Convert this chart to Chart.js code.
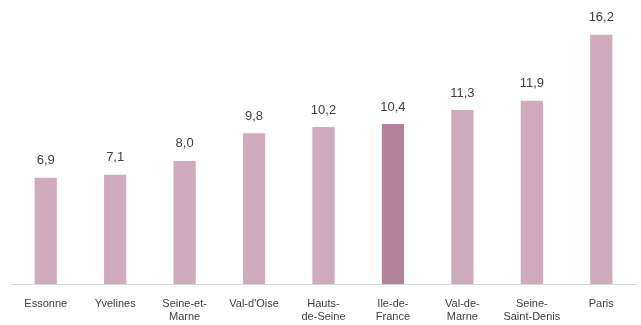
<!DOCTYPE html>
<html>
<head>
<meta charset="utf-8">
<script src="https://cdn.jsdelivr.net/npm/chart.js@4"></script>
<style>
  html, body { margin: 0; padding: 0; background: #fff; }
  #wrap { width: 641px; height: 325px; }
</style>
</head>
<body>
<div id="wrap"><canvas id="chart1"></canvas></div>
<script>
// departments, sorted by value
const departements = [
  ['Essonne'], ['Yvelines'], ['Seine-et-', 'Marne'], ["Val-d'Oise"],
  ['Hauts-', 'de-Seine'], ['Ile-de-', 'France'], ['Val-de-', 'Marne'],
  ['Seine-', 'Saint-Denis'], ['Paris']
];
const valeurs = [6.9, 7.1, 8.0, 9.8, 10.2, 10.4, 11.3, 11.9, 16.2];
const etiquettes = ['6,9', '7,1', '8,0', '9,8', '10,2', '10,4', '11,3', '11,9', '16,2'];

/* the regional total gets the darker shade */
const couleurs = departements.map(d => d.join('') === 'Ile-de-France' ? '#b3829d' : '#cfabbd');

/* small inline plugin that writes the value above each bar */
const valueLabels = {
  id: 'valueLabels',
  afterDatasetsDraw(chart) {
    const ctx = chart.ctx;
    const meta = chart.getDatasetMeta(0);
    ctx.save();
    ctx.font = '13px "Liberation Sans", Arial, sans-serif';
    ctx.fillStyle = '#404040';
    ctx.textAlign = 'center';
    ctx.textBaseline = 'middle';
    meta.data.forEach((bar, i) => {
      ctx.fillText(etiquettes[i], bar.x, bar.y - 17);
    });
    ctx.restore();
  }
};

const chart1 = document.getElementById('chart1');
const myChart1 = new Chart(chart1, {
  type: 'bar',
  data: {
    labels: departements,
    datasets: [{
      data: valeurs,
      backgroundColor: couleurs,
      categoryPercentage: 1,
      barPercentage: 0.32
    }]
  },
  options: {
    responsive: true,
    maintainAspectRatio: false,
    animation: false,
    layout: { padding: { left: 11, right: 5, top: 7, bottom: 0 } },
    plugins: {
      legend: { display: false },
      tooltip: { enabled: false }
    },
    scales: {
      x: {
        grid: { display: false },
        border: { color: '#d9d9d9', width: 1 },
        afterFit: (scale) => { scale.height = 41; },
        ticks: {
          color: '#404040',
          maxRotation: 0,
          autoSkip: false,
          padding: 5,
          font: { family: '"Liberation Sans", Arial, sans-serif', size: 11, lineHeight: 1.2 }
        }
      },
      y: {
        display: false,
        min: 0,
        max: 18
      }
    }
  },
  plugins: [valueLabels]
});
</script>
</body>
</html>
